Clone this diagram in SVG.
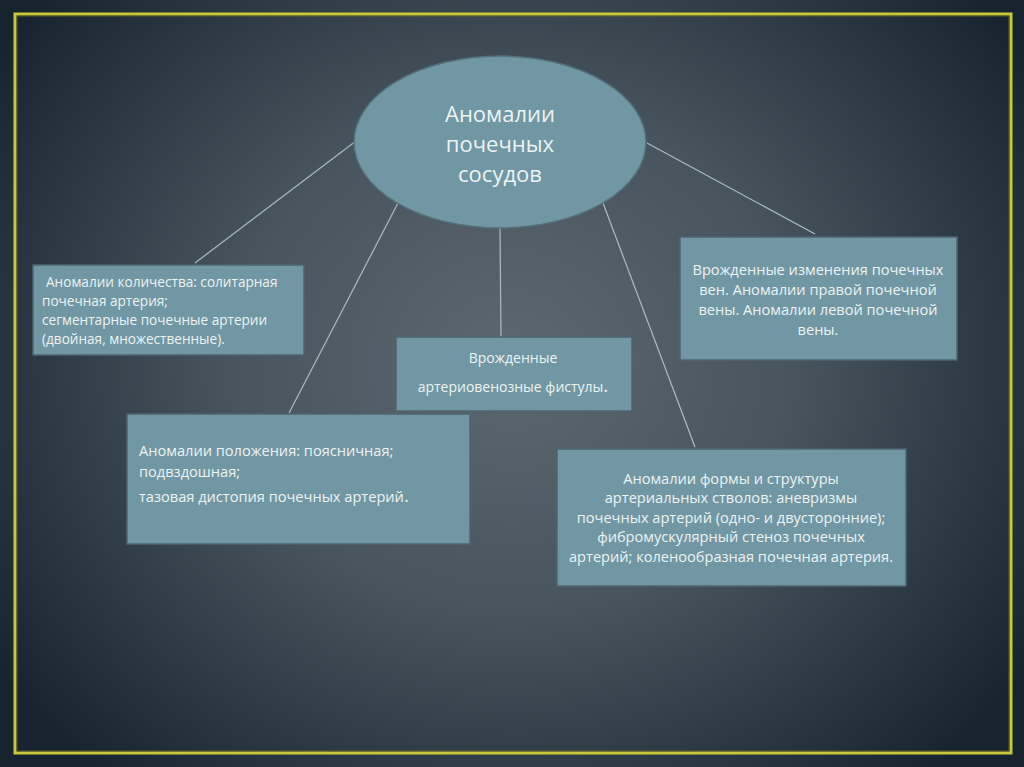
<svg xmlns="http://www.w3.org/2000/svg" width="1024" height="767" viewBox="0 0 1024 767">
<defs>
<radialGradient id="bg" cx="512" cy="360" r="620" gradientUnits="userSpaceOnUse" gradientTransform="translate(512 360) scale(1 0.9) translate(-512 -360)">
<stop offset="0" stop-color="#5d676f"/>
<stop offset="0.45" stop-color="#48545e"/>
<stop offset="1" stop-color="#17242f"/>
</radialGradient>
</defs>
<style>
.box{fill:#7097a3;stroke:#4e6670;stroke-width:1.5}
.t{font-family:"Open Sans","Liberation Sans",sans-serif;fill:#eef3f4}
.c{text-anchor:middle}
.conn line{stroke:#a9bcc4;stroke-width:1.2}
</style>
<rect width="1024" height="767" fill="url(#bg)"/>
<rect x="15" y="14" width="996" height="739" fill="none" stroke="#c9c83a" stroke-width="3"/>
<rect x="17" y="16" width="992" height="735" fill="none" stroke="#6b6a22" stroke-width="0.8"/>
<g class="conn">
<line x1="356" y1="141" x2="195" y2="263"/>
<line x1="398" y1="203" x2="289" y2="413"/>
<line x1="500" y1="228" x2="501" y2="337"/>
<line x1="603" y1="203" x2="695" y2="447"/>
<line x1="647" y1="143" x2="815" y2="234"/>
</g>
<g id="center">
<ellipse cx="500" cy="142" rx="146" ry="86" fill="#7097a3" stroke="#53707a" stroke-width="1.5"/>
<text class="t c" font-size="22" x="500" y="122">Аномалии</text>
<text class="t c" font-size="22" x="500" y="152">почечных</text>
<text class="t c" font-size="22" x="500" y="182">сосудов</text>
</g>
<g id="quantity">
<rect class="box" x="33" y="265" width="271" height="90"/>
<text class="t" font-size="13.6" x="46" y="287">Аномалии количества: солитарная</text>
<text class="t" font-size="13.6" x="42" y="306">почечная артерия;</text>
<text class="t" font-size="13.6" x="42" y="325">сегментарные почечные артерии</text>
<text class="t" font-size="13.6" x="42" y="344">(двойная, множественные).</text>
</g>
<g id="veins">
<rect class="box" x="680" y="237" width="277" height="123"/>
<text class="t c" font-size="14.6" x="818" y="275">Врожденные изменения почечных</text>
<text class="t c" font-size="14.6" x="818" y="295">вен. Аномалии правой почечной</text>
<text class="t c" font-size="14.6" x="818" y="315">вены. Аномалии левой почечной</text>
<text class="t c" font-size="14.6" x="818" y="335">вены.</text>
</g>
<g id="fistula">
<rect class="box" x="396" y="337" width="236" height="74"/>
<text class="t c" font-size="14" x="513" y="363">Врожденные</text>
<text class="t c" font-size="14" x="513" y="392">артериовенозные фистулы<tspan font-size="19">.</tspan></text>
</g>
<g id="position">
<rect class="box" x="127" y="414" width="343" height="130"/>
<text class="t" font-size="14.6" x="139" y="456">Аномалии положения: поясничная;</text>
<text class="t" font-size="14.6" x="139" y="477">подвздошная;</text>
<text class="t" font-size="14.6" x="139" y="502">тазовая дистопия почечных артерий<tspan font-size="19">.</tspan></text>
</g>
<g id="form">
<rect class="box" x="557" y="449" width="349" height="137"/>
<text class="t c" font-size="14.6" x="731" y="484">Аномалии формы и структуры</text>
<text class="t c" font-size="14.6" x="731" y="503">артериальных стволов: аневризмы</text>
<text class="t c" font-size="14.6" x="731" y="523">почечных артерий (одно- и двусторонние);</text>
<text class="t c" font-size="14.6" x="731" y="542">фибромускулярный стеноз почечных</text>
<text class="t c" font-size="14.6" x="731" y="562">артерий; коленообразная почечная артерия.</text>
</g>
</svg>
